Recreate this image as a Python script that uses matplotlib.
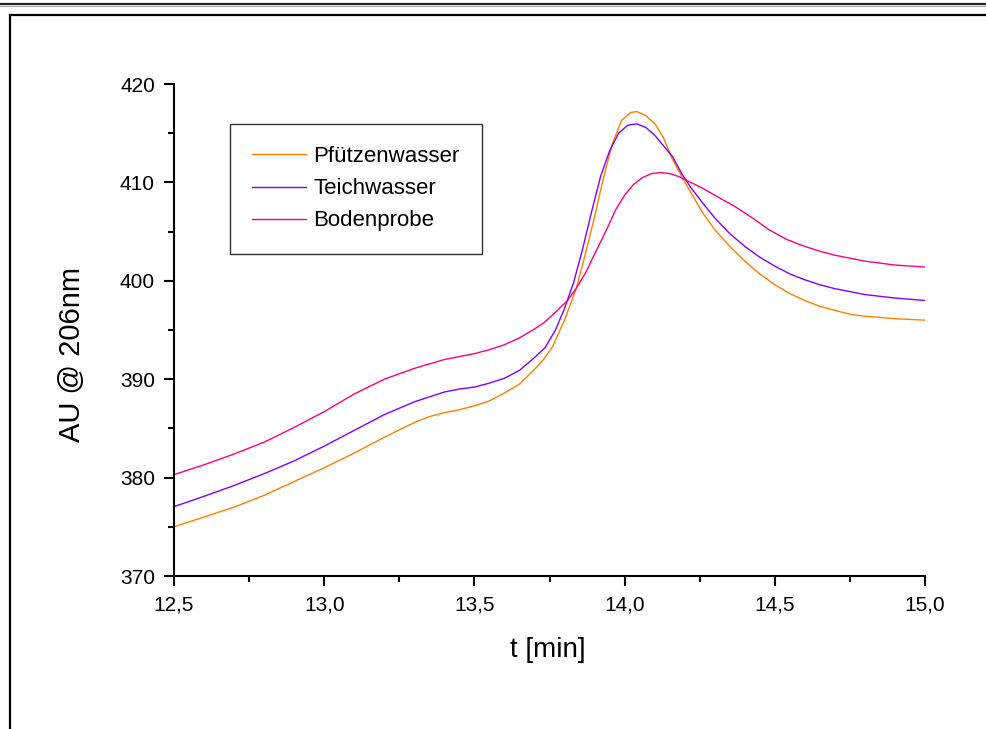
import matplotlib
matplotlib.use("Agg")
import matplotlib.pyplot as plt
from matplotlib.lines import Line2D
from matplotlib.ticker import MultipleLocator, FuncFormatter

plt.rcParams['font.family'] = ['Liberation Sans', 'DejaVu Sans']

# ---- data ----
t_pfuetze = [12.50, 12.60, 12.70, 12.80, 12.90, 13.00, 13.10, 13.20, 13.30, 13.35, 13.40,
             13.45, 13.50, 13.55, 13.60, 13.65, 13.70, 13.73, 13.76, 13.80, 13.84, 13.87,
             13.90, 13.93, 13.96, 13.99, 14.02, 14.04, 14.07, 14.10, 14.13, 14.16, 14.19,
             14.22, 14.26, 14.30, 14.35, 14.40, 14.45, 14.50, 14.55, 14.60, 14.65, 14.70,
             14.75, 14.80, 14.90, 15.00]
y_pfuetze = [375.0, 376.0, 377.0, 378.2, 379.6, 381.0, 382.5, 384.1, 385.6, 386.2, 386.6,
             386.9, 387.3, 387.8, 388.6, 389.5, 391.0, 392.0, 393.3, 396.0, 399.3, 402.8,
             406.5, 410.5, 414.0, 416.3, 417.1, 417.2, 416.8, 416.0, 414.5, 412.3, 410.6,
             409.0, 406.9, 405.2, 403.5, 402.0, 400.7, 399.6, 398.7, 398.0, 397.4, 397.0,
             396.6, 396.4, 396.15, 396.0]

t_teich = [12.50, 12.60, 12.70, 12.80, 12.90, 13.00, 13.10, 13.20, 13.30, 13.40, 13.45,
           13.50, 13.55, 13.60, 13.65, 13.70, 13.735, 13.77, 13.80, 13.83, 13.86, 13.89,
           13.92, 13.95, 13.98, 14.01, 14.04, 14.07, 14.10, 14.13, 14.16, 14.19, 14.22,
           14.26, 14.30, 14.35, 14.40, 14.45, 14.50, 14.55, 14.60, 14.65, 14.70, 14.75,
           14.80, 14.90, 15.00]
y_teich = [377.05, 378.1, 379.2, 380.4, 381.7, 383.2, 384.8, 386.4, 387.7, 388.7, 389.0,
           389.2, 389.6, 390.1, 390.9, 392.2, 393.2, 395.0, 397.2, 399.8, 403.2, 407.0,
           410.6, 413.2, 415.0, 415.8, 415.95, 415.6, 414.8, 413.7, 412.6, 410.9, 409.5,
           407.9, 406.4, 404.8, 403.5, 402.4, 401.5, 400.7, 400.1, 399.6, 399.2, 398.9,
           398.6, 398.25, 398.0]

t_boden = [12.50, 12.60, 12.70, 12.80, 12.90, 13.00, 13.10, 13.20, 13.30, 13.40, 13.50,
           13.55, 13.60, 13.65, 13.70, 13.73, 13.77, 13.81, 13.84, 13.87, 13.90, 13.94,
           13.97, 14.00, 14.03, 14.06, 14.09, 14.12, 14.15, 14.18, 14.22, 14.26, 14.30,
           14.37, 14.43, 14.48, 14.54, 14.59, 14.65, 14.70, 14.75, 14.80, 14.90, 15.00]
y_boden = [380.3, 381.3, 382.4, 383.6, 385.1, 386.7, 388.5, 390.0, 391.1, 392.0, 392.6,
           393.0, 393.5, 394.2, 395.1, 395.7, 396.8, 398.0, 399.3, 400.8, 402.7, 405.2,
           407.2, 408.7, 409.8, 410.5, 410.9, 411.0, 410.9, 410.6, 410.0, 409.4, 408.7,
           407.5, 406.3, 405.2, 404.2, 403.6, 403.0, 402.6, 402.3, 402.0, 401.6, 401.4]

series_names = ["Pfützenwasser", "Teichwasser", "Bodenprobe"]
colors = ["#FF8000", "#8000FF", "#FF0080"]

x_label = "t [min]"
y_label = "AU @ 206nm"

# ---- figure ----
fig = plt.figure(figsize=(9.86, 7.29), dpi=100)
ax = fig.add_axes([174 / 986, 1 - 576 / 729, (925 - 174) / 986, (576 - 84) / 729])

for t, y, name, c in zip([t_pfuetze, t_teich, t_boden], [y_pfuetze, y_teich, y_boden],
                         series_names, colors):
    ax.plot(t, y, color=c, lw=1.0, label=name)

ax.set_xlim(12.5, 15.0)
ax.set_ylim(370, 420)
ax.xaxis.set_major_locator(MultipleLocator(0.5))
ax.xaxis.set_minor_locator(MultipleLocator(0.25))
ax.yaxis.set_major_locator(MultipleLocator(10))
ax.yaxis.set_minor_locator(MultipleLocator(5))
ax.xaxis.set_major_formatter(FuncFormatter(lambda v, p: f"{v:.1f}".replace('.', ',')))
ax.yaxis.set_major_formatter(FuncFormatter(lambda v, p: f"{v:.0f}"))

for s in ['top', 'right']:
    ax.spines[s].set_visible(False)
for s in ['left', 'bottom']:
    ax.spines[s].set_linewidth(1.5)

ax.tick_params(which='major', direction='out', length=7.2, width=1.5, labelsize=15, pad=6.5)
ax.tick_params(which='minor', direction='out', length=4.3, width=1.5)

fig.text(548 / 986, 1 - 650 / 729, x_label, ha='center', va='center', fontsize=20)
fig.text(72 / 986, 1 - 355 / 729, y_label, ha='center', va='center', fontsize=21, rotation=90)

leg = ax.legend(loc='upper left', bbox_to_anchor=((230 - 174) / 751, (576 - 124) / 492),
                borderaxespad=0, fontsize=16, frameon=True, fancybox=False,
                handlelength=2.4, handletextpad=0.35, borderpad=1.0, labelspacing=0.5)
leg.get_frame().set_edgecolor('black')
leg.get_frame().set_linewidth(1.0)

# ---- page frame lines ----
fig.add_artist(Line2D([0, 1], [1 - 3.8 / 729, 1 - 3.8 / 729], transform=fig.transFigure,
                      color='#222222', lw=1.6))
fig.add_artist(Line2D([0, 1], [1 - 5.6 / 729, 1 - 5.6 / 729], transform=fig.transFigure,
                      color='#AAAAAA', lw=0.8))
fig.add_artist(Line2D([10 / 986, 1], [1 - 15 / 729, 1 - 15 / 729], transform=fig.transFigure,
                      color='black', lw=1.6))
fig.add_artist(Line2D([10 / 986, 10 / 986], [1 - 15 / 729, 0], transform=fig.transFigure,
                      color='black', lw=1.6))

fig.savefig("out.png", dpi=100)
